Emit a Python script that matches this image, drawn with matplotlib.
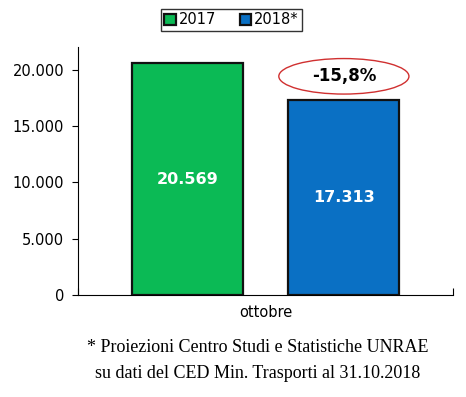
import matplotlib
matplotlib.use("Agg")
import matplotlib.pyplot as plt
from matplotlib.patches import Ellipse
from matplotlib.ticker import FuncFormatter

# data
categories = ["ottobre"]
series = ["2017", "2018*"]
values = [20569, 17313]
colors = ["#0bba55", "#0a70c4"]
change_label = "-15,8%"
footnote = ["* Proiezioni Centro Studi e Statistiche UNRAE",
            "su dati del CED Min. Trasporti al 31.10.2018"]


def dotted(v, _=None):
    return f"{v:,.0f}".replace(",", ".")


fig = plt.figure(figsize=(4.66, 3.97), dpi=100)
ax = fig.add_axes([78 / 466, 1 - 295 / 397, 375 / 466, 248 / 397])

w = 0.296
offs = [-0.209, 0.209]
for i, (s, v, c) in enumerate(zip(series, values, colors)):
    ax.bar(offs[i], v, width=w, color=c, edgecolor="#111111", linewidth=1.6,
           label=s, zorder=3)
    ax.text(offs[i], v / 2, dotted(v), ha="center", va="center", color="white",
            fontsize=11.5, fontweight="bold", zorder=4)

ax.set_xlim(-0.5, 0.5)
ax.set_ylim(0, 22000)
ax.set_yticks(range(0, 20001, 5000))
ax.yaxis.set_major_formatter(FuncFormatter(dotted))
ax.set_xticks([-0.5, 0.5])
ax.set_xticklabels(["", ""])
ax.tick_params(axis="y", labelsize=10.5, length=4, direction="out", pad=6)
ax.tick_params(axis="x", length=5, direction="in")
ax.text(0.5, -0.04, categories[0], transform=ax.transAxes, ha="center", va="top",
        fontsize=10.5)
for sp in ["top", "right"]:
    ax.spines[sp].set_visible(False)

# change annotation in ellipse
ax.add_patch(Ellipse((offs[1], 19400), width=0.347, height=3150, facecolor="white",
                     edgecolor="#d03030", linewidth=1.0, zorder=5))
ax.text(offs[1], 19400, change_label, ha="center", va="center", fontsize=12,
        fontweight="bold", zorder=6)

leg = fig.legend(loc="center", bbox_to_anchor=(231.5 / 466, 1 - 20 / 397), ncol=2,
                 fontsize=10.5, frameon=True, fancybox=False, edgecolor="black",
                 handlelength=0.8, handleheight=0.8, handletextpad=0.2,
                 columnspacing=1.6, borderpad=0.25, borderaxespad=0)
leg.get_frame().set_linewidth(1.0)

fig.text(258 / 466, 1 - 347 / 397, footnote[0], ha="center", va="center",
         fontsize=13, family="Liberation Serif")
fig.text(258 / 466, 1 - 374 / 397, footnote[1], ha="center", va="center",
         fontsize=13, family="Liberation Serif")

fig.savefig("out.png", dpi=100)
